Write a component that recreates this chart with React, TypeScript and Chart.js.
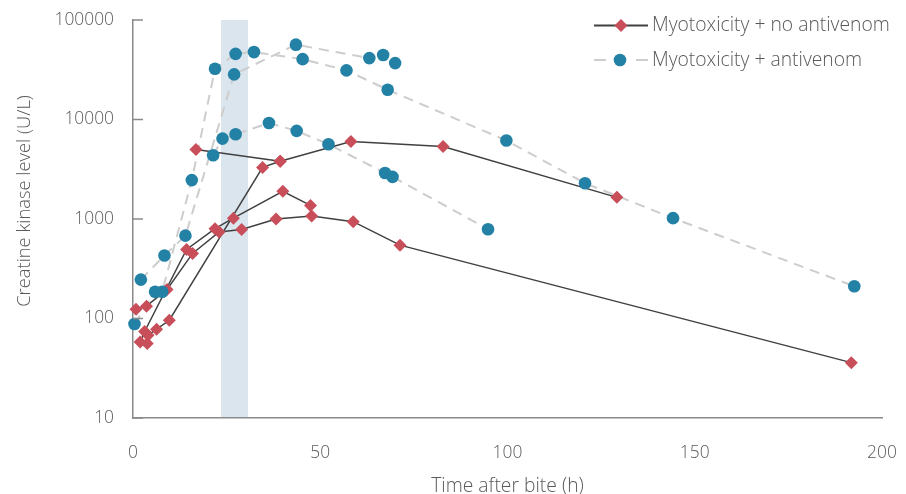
import React, { useEffect, useRef } from "react";
import { Chart, registerables } from "chart.js";

Chart.register(...registerables);

// ---- Data: Myotoxicity + no antivenom (one array pair per patient) ----
const noAv1Time = [0.8, 3.6, 9.1, 15.9, 23.0, 29.0, 38.2, 47.7, 58.8, 71.3, 191.8];
const noAv1CK = [124, 133, 196, 451, 740, 785, 1000, 1070, 940, 546, 36];

const noAv2Time = [1.9, 3.1, 14.3, 21.9, 26.8, 40.0, 47.4];
const noAv2CK = [58, 74, 495, 800, 1020, 1900, 1370];

const noAv3Time = [3.8, 4.0, 6.3, 9.7, 34.6, 39.3, 58.2, 82.8, 129.2];
const noAv3CK = [56, 68, 78, 96, 3300, 3800, 6000, 5350, 1650];

const noAv4Time = [16.8, 39.3];
const noAv4CK = [5000, 3800];

// ---- Data: Myotoxicity + antivenom ----
const av1Time = [0.4, 5.9, 7.8, 15.7, 21.9, 27.4, 32.3, 45.3, 57.0, 68.0, 99.7, 120.7, 144.2, 192.6];
const av1CK = [88, 186, 186, 2460, 32400, 45700, 47600, 40400, 31200, 19900, 6150, 2290, 1020, 211];

const av2Time = [2.1, 8.4, 14.0, 27.0, 43.5, 63.1];
const av2CK = [246, 430, 680, 28400, 56500, 41400];

const av3Time = [21.4, 23.9, 27.4, 36.3, 43.7, 52.2, 67.3, 69.3, 94.8];
const av3CK = [4370, 6430, 7100, 9230, 7680, 5640, 2900, 2650, 790];

const av4Time = [66.8, 70.0];
const av4CK = [44500, 36900];

// ---- Axes / labels ----
const xTicks = [0, 50, 100, 150, 200];
const yTicks = [10, 100, 1000, 10000, 100000];
const shadeStart = 23.5;
const shadeEnd = 30.7;
const legendLabels = ["Myotoxicity + no antivenom", "Myotoxicity + antivenom"];
const xTitle = "Time after bite (h)";
const yTitle = "Creatine kinase level (U/L)";

const RED = "#c84f5a";
const TEAL = "#2481a6";
const DARK = "#404040";
const DASH = "#cdcdcd";
const TEXT = "#595959";
const AXIS = "#8a8a8a";
const FONT = "'Open Sans', Lato, sans-serif";
const WEIGHT = 300;

const pts = (t: number[], v: number[]) => t.map((x, i) => ({ x, y: v[i] }));

function measure(text: string, size: number) {
  const c = document.createElement("canvas").getContext("2d");
  if (!c) return text.length * size * 0.5;
  c.font = `${WEIGHT} ${size}px ${FONT}`;
  return c.measureText(text).width;
}

export default function App() {
  const ref = useRef<HTMLCanvasElement | null>(null);

  useEffect(() => {
    if (!ref.current) return;

    // font size chosen so the legend text spans the same width as the reference
    let fs = (16 * 238) / measure(legendLabels[0], 16);
    fs = Math.max(12, Math.min(22, fs));
    const lh = fs * 1.2;
    const font = { family: FONT, size: fs, weight: WEIGHT as any };
    const tickFs = fs * 0.9;
    const tickFont = { family: FONT, size: tickFs, weight: WEIGHT as any };
    const yTitleFs = fs * 0.95;

    const noAv = [
      pts(noAv1Time, noAv1CK),
      pts(noAv2Time, noAv2CK),
      pts(noAv3Time, noAv3CK),
      pts(noAv4Time, noAv4CK),
    ];
    const av = [
      pts(av1Time, av1CK),
      pts(av2Time, av2CK),
      pts(av3Time, av3CK),
      pts(av4Time, av4CK),
    ];

    const datasets: any[] = [];
    av.forEach((d, i) => {
      datasets.push({
        label: "avLine" + i,
        data: d,
        showLine: i < 3,
        borderColor: DASH,
        borderWidth: 2,
        borderDash: [10, 7],
        pointRadius: 0,
        clip: false,
        order: 10,
      });
    });
    noAv.forEach((d, i) => {
      datasets.push({
        label: "noAv" + i,
        data: d,
        showLine: true,
        borderColor: DARK,
        borderWidth: 1.5,
        pointStyle: "rectRot",
        pointRadius: 6.5,
        pointBackgroundColor: RED,
        pointBorderColor: RED,
        pointBorderWidth: 0,
        clip: false,
        order: 5,
      });
    });
    av.forEach((d, i) => {
      datasets.push({
        label: "avPts" + i,
        data: d,
        showLine: false,
        pointStyle: "circle",
        pointRadius: 6.3,
        pointBackgroundColor: TEAL,
        pointBorderColor: TEAL,
        pointBorderWidth: 0,
        clip: false,
        order: 1,
      });
    });

    const decor = {
      id: "decor",
      beforeDraw(chart: any) {
        const { ctx, chartArea, scales } = chart;
        const x0 = scales.x.getPixelForValue(shadeStart);
        const x1 = scales.x.getPixelForValue(shadeEnd);
        ctx.save();
        ctx.fillStyle = "#dae5ee";
        ctx.fillRect(x0, chartArea.top, x1 - x0, chartArea.bottom - chartArea.top);
        ctx.restore();
      },
      afterDraw(chart: any) {
        const { ctx, chartArea, scales } = chart;
        ctx.save();
        // inward ticks on y axis
        ctx.strokeStyle = AXIS;
        ctx.lineWidth = 1.5;
        yTicks.forEach((v) => {
          const py = scales.y.getPixelForValue(v);
          ctx.beginPath();
          ctx.moveTo(chartArea.left, py);
          ctx.lineTo(chartArea.left + 10, py);
          ctx.stroke();
        });

        // y axis title
        ctx.save();
        ctx.translate(25, 201);
        ctx.rotate(-Math.PI / 2);
        ctx.fillStyle = TEXT;
        ctx.font = `${WEIGHT} ${yTitleFs}px ${FONT}`;
        ctx.textAlign = "center";
        ctx.textBaseline = "middle";
        ctx.fillText(yTitle, 0, 0);
        ctx.restore();

        // legend
        const lx0 = 594;
        const lx1 = 648;
        const mid = 621;
        const tx = 652;
        const r1 = 25.5;
        const r2 = 60;
        ctx.strokeStyle = DARK;
        ctx.lineWidth = 2;
        ctx.beginPath();
        ctx.moveTo(lx0, r1);
        ctx.lineTo(lx1, r1);
        ctx.stroke();
        ctx.fillStyle = RED;
        ctx.beginPath();
        ctx.moveTo(mid - 6.5, r1);
        ctx.lineTo(mid, r1 - 6.5);
        ctx.lineTo(mid + 6.5, r1);
        ctx.lineTo(mid, r1 + 6.5);
        ctx.closePath();
        ctx.fill();

        ctx.strokeStyle = DASH;
        ctx.lineWidth = 2;
        ctx.beginPath();
        ctx.moveTo(lx0, r2);
        ctx.lineTo(lx0 + 12, r2);
        ctx.moveTo(lx1 - 12, r2);
        ctx.lineTo(lx1, r2);
        ctx.stroke();
        ctx.fillStyle = TEAL;
        ctx.beginPath();
        ctx.arc(mid - 1, r2, 6.3, 0, Math.PI * 2);
        ctx.fill();

        ctx.fillStyle = TEXT;
        ctx.font = `${WEIGHT} ${fs}px ${FONT}`;
        ctx.textBaseline = "middle";
        ctx.textAlign = "left";
        ctx.fillText(legendLabels[0], tx, r1);
        ctx.fillText(legendLabels[1], tx, r2);
        ctx.restore();
      },
    };

    const chart = new Chart(ref.current, {
      type: "line",
      data: { datasets },
      options: {
        animation: false,
        responsive: true,
        maintainAspectRatio: false,
        layout: { padding: { top: 20, right: 24, left: 0, bottom: 0 } },
        plugins: {
          legend: { display: false },
          tooltip: { enabled: false },
        },
        scales: {
          x: {
            type: "linear",
            min: 0,
            max: 200,
            afterBuildTicks: (s: any) => {
              s.ticks = xTicks.map((v) => ({ value: v }));
            },
            afterFit: (s: any) => {
              s.height = 76;
              s.paddingLeft = 0;
              s.paddingRight = 0;
              s.paddingTop = 0;
              s.paddingBottom = 0;
            },
            grid: { display: false, drawTicks: false },
            border: { display: true, color: AXIS, width: 1.5 },
            ticks: {
              padding: 25 - (tickFs - 16) / 2,
              color: TEXT,
              font: tickFont,
              maxRotation: 0,
              autoSkip: false,
            },
            title: {
              display: true,
              text: xTitle,
              color: TEXT,
              font,
              padding: { top: 0, bottom: 8 - lh / 2 },
            },
          },
          y: {
            type: "logarithmic",
            min: 10,
            max: 100000,
            afterBuildTicks: (s: any) => {
              s.ticks = yTicks.map((v) => ({ value: v }));
            },
            afterFit: (s: any) => {
              s.width = 133;
              s.paddingLeft = 0;
              s.paddingRight = 0;
              s.paddingTop = 0;
              s.paddingBottom = 0;
            },
            grid: { display: false, drawTicks: false },
            border: { display: true, color: AXIS, width: 1.5 },
            ticks: {
              padding: 19,
              color: TEXT,
              font: tickFont,
              autoSkip: false,
              callback: (v: any) => String(v),
            },
            title: { display: false },
          },
        },
      },
      plugins: [decor],
    });

    return () => chart.destroy();
  }, []);

  return (
    <div style={{ position: "fixed", left: 0, top: 0, width: 906, height: 494 }}>
      <canvas ref={ref} />
    </div>
  );
}
